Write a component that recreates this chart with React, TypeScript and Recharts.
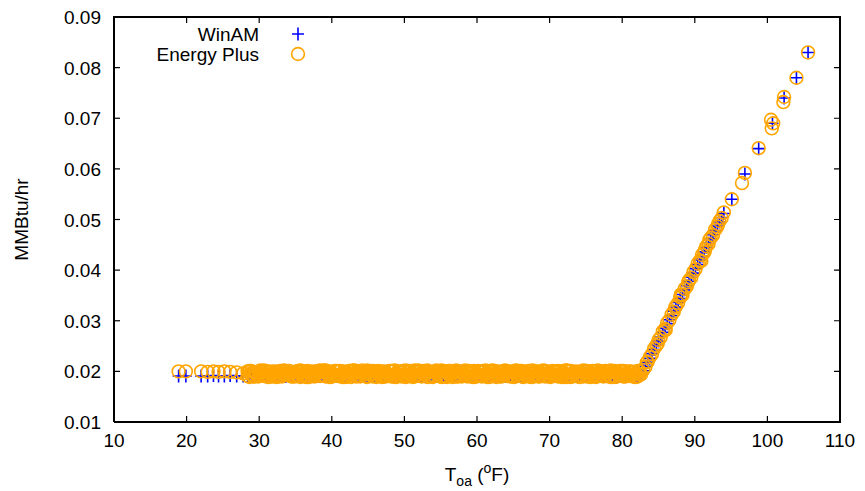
import React from 'react';
import { ScatterChart, Scatter, XAxis, YAxis } from 'recharts';

const FONT = '"Liberation Sans", Arial, Helvetica, sans-serif';

// tick values
const xTicks = [10, 20, 30, 40, 50, 60, 70, 80, 90, 100, 110];
const yTicks = [0.01, 0.02, 0.03, 0.04, 0.05, 0.06, 0.07, 0.08, 0.09];

// flat part, cold side (few hours)
const sparseTemps = [18.9, 19.9, 22.0, 22.9, 23.7, 24.4, 25.2, 26.0, 26.9, 27.8];
const winamSparse = [0.0191, 0.0191, 0.0191, 0.0191, 0.0192, 0.0191, 0.0191, 0.0192, 0.0191, 0.0191];
const epSparse = [0.0200, 0.0200, 0.0200, 0.0199, 0.0200, 0.0199, 0.0200, 0.0199, 0.0198, 0.0196];

// flat part, dense band
const denseTemps = [
  28.4, 28.9, 29.4, 29.9, 30.4, 30.9, 31.4, 31.9, 32.4, 32.9, 33.4, 33.9,
  34.4, 34.9, 35.4, 35.9, 36.4, 36.9, 37.4, 37.9, 38.4, 38.9, 39.4, 39.9,
  40.4, 40.9, 41.4, 41.9, 42.4, 42.9, 43.4, 43.9, 44.4, 44.9, 45.4, 45.9,
  46.4, 46.9, 47.4, 47.9, 48.4, 48.9, 49.4, 49.9, 50.4, 50.9, 51.4, 51.9,
  52.4, 52.9, 53.4, 53.9, 54.4, 54.9, 55.4, 55.9, 56.4, 56.9, 57.4, 57.9,
  58.4, 58.9, 59.4, 59.9, 60.4, 60.9, 61.4, 61.9, 62.4, 62.9, 63.4, 63.9,
  64.4, 64.9, 65.4, 65.9, 66.4, 66.9, 67.4, 67.9, 68.4, 68.9, 69.4, 69.9,
  70.4, 70.9, 71.4, 71.9, 72.4, 72.9, 73.4, 73.9, 74.4, 74.9, 75.4, 75.9,
  76.4, 76.9, 77.4, 77.9, 78.4, 78.9, 79.4, 79.9, 80.4, 80.9, 81.4, 81.9,
  82.4,
];
const denseTemps2 = [
  28.65, 29.15, 29.65, 30.15, 30.65, 31.15, 31.65, 32.15, 32.65, 33.15, 33.65, 34.15,
  34.65, 35.15, 35.65, 36.15, 36.65, 37.15, 37.65, 38.15, 38.65, 39.15, 39.65, 40.15,
  40.65, 41.15, 41.65, 42.15, 42.65, 43.15, 43.65, 44.15, 44.65, 45.15, 45.65, 46.15,
  46.65, 47.15, 47.65, 48.15, 48.65, 49.15, 49.65, 50.15, 50.65, 51.15, 51.65, 52.15,
  52.65, 53.15, 53.65, 54.15, 54.65, 55.15, 55.65, 56.15, 56.65, 57.15, 57.65, 58.15,
  58.65, 59.15, 59.65, 60.15, 60.65, 61.15, 61.65, 62.15, 62.65, 63.15, 63.65, 64.15,
  64.65, 65.15, 65.65, 66.15, 66.65, 67.15, 67.65, 68.15, 68.65, 69.15, 69.65, 70.15,
  70.65, 71.15, 71.65, 72.15, 72.65, 73.15, 73.65, 74.15, 74.65, 75.15, 75.65, 76.15,
  76.65, 77.15, 77.65, 78.15, 78.65, 79.15, 79.65, 80.15, 80.65, 81.15, 81.65, 82.15,
];

const winamDense = [
  0.0191, 0.0192, 0.0190, 0.0191, 0.0193, 0.0190, 0.0192, 0.0191, 0.0190, 0.0192, 0.0191, 0.0193,
  0.0190, 0.0191, 0.0192, 0.0190, 0.0191, 0.0193, 0.0191, 0.0190, 0.0192, 0.0191, 0.0190, 0.0192,
  0.0193, 0.0191, 0.0190, 0.0192, 0.0191, 0.0190, 0.0193, 0.0192, 0.0191, 0.0190, 0.0191, 0.0192,
  0.0191, 0.0190, 0.0192, 0.0193, 0.0191, 0.0191, 0.0190, 0.0192, 0.0191, 0.0193, 0.0190, 0.0191,
  0.0192, 0.0191, 0.0190, 0.0191, 0.0193, 0.0192, 0.0190, 0.0191, 0.0192, 0.0190, 0.0191, 0.0193,
  0.0190, 0.0192, 0.0191, 0.0190, 0.0192, 0.0191, 0.0193, 0.0190, 0.0191, 0.0192, 0.0191, 0.0190,
  0.0191, 0.0193, 0.0190, 0.0192, 0.0191, 0.0190, 0.0191, 0.0192, 0.0193, 0.0191, 0.0190, 0.0192,
  0.0192, 0.0190, 0.0191, 0.0193, 0.0191, 0.0192, 0.0190, 0.0191, 0.0192, 0.0190, 0.0193, 0.0191,
  0.0190, 0.0191, 0.0192, 0.0191, 0.0190, 0.0193, 0.0191, 0.0192, 0.0190, 0.0191, 0.0192, 0.0191,
  0.0192,
];
const winamDense2 = [
  0.0190, 0.0192, 0.0191, 0.0190, 0.0192, 0.0191, 0.0193, 0.0190, 0.0191, 0.0192, 0.0190, 0.0191,
  0.0192, 0.0190, 0.0191, 0.0193, 0.0190, 0.0192, 0.0191, 0.0190, 0.0191, 0.0192, 0.0193, 0.0190,
  0.0191, 0.0190, 0.0192, 0.0191, 0.0193, 0.0190, 0.0191, 0.0192, 0.0190, 0.0191, 0.0192, 0.0191,
  0.0193, 0.0191, 0.0190, 0.0192, 0.0190, 0.0191, 0.0192, 0.0193, 0.0190, 0.0191, 0.0191, 0.0192,
  0.0190, 0.0192, 0.0191, 0.0190, 0.0192, 0.0193, 0.0191, 0.0190, 0.0191, 0.0192, 0.0190, 0.0191,
  0.0191, 0.0190, 0.0193, 0.0191, 0.0192, 0.0190, 0.0191, 0.0192, 0.0191, 0.0190, 0.0193, 0.0192,
  0.0192, 0.0191, 0.0190, 0.0191, 0.0193, 0.0192, 0.0190, 0.0191, 0.0190, 0.0192, 0.0191, 0.0190,
  0.0190, 0.0193, 0.0192, 0.0191, 0.0190, 0.0191, 0.0192, 0.0190, 0.0193, 0.0191, 0.0190, 0.0192,
  0.0191, 0.0192, 0.0190, 0.0191, 0.0192, 0.0190, 0.0191, 0.0193, 0.0191, 0.0192, 0.0190, 0.0191,
];

const epDense = [
  0.0200, 0.0194, 0.0190, 0.0198, 0.0192, 0.0201, 0.0189, 0.0196, 0.0199, 0.0191, 0.0202, 0.0195,
  0.0197, 0.0190, 0.0201, 0.0193, 0.0199, 0.0189, 0.0200, 0.0195, 0.0191, 0.0202, 0.0194, 0.0198,
  0.0192, 0.0200, 0.0196, 0.0189, 0.0201, 0.0194, 0.0199, 0.0190, 0.0197, 0.0202, 0.0193, 0.0200,
  0.0195, 0.0189, 0.0198, 0.0201, 0.0191, 0.0196, 0.0200, 0.0192, 0.0199, 0.0194, 0.0190, 0.0202,
  0.0197, 0.0193, 0.0200, 0.0189, 0.0196, 0.0201, 0.0191, 0.0198, 0.0194, 0.0200, 0.0190, 0.0199,
  0.0202, 0.0195, 0.0189, 0.0197, 0.0192, 0.0200, 0.0196, 0.0190, 0.0201, 0.0193, 0.0199, 0.0195,
  0.0191, 0.0198, 0.0202, 0.0194, 0.0189, 0.0200, 0.0196, 0.0192, 0.0199, 0.0201, 0.0190, 0.0197,
  0.0194, 0.0200, 0.0191, 0.0198, 0.0202, 0.0189, 0.0195, 0.0199, 0.0193, 0.0201, 0.0196, 0.0190,
  0.0200, 0.0192, 0.0198, 0.0195, 0.0189, 0.0201, 0.0197, 0.0193, 0.0200, 0.0191, 0.0199, 0.0196,
  0.0194,
];

// more hours at the same temperatures
const epDense3 = [
  0.0191, 0.0201, 0.0198, 0.0190, 0.0200, 0.0193, 0.0199, 0.0190, 0.0189, 0.0201, 0.0193, 0.0198,
  0.0190, 0.0199, 0.0192, 0.0201, 0.0189, 0.0197, 0.0191, 0.0200, 0.0202, 0.0193, 0.0199, 0.0189,
  0.0201, 0.0191, 0.0189, 0.0199, 0.0192, 0.0202, 0.0190, 0.0198, 0.0193, 0.0189, 0.0200, 0.0191,
  0.0201, 0.0199, 0.0190, 0.0192, 0.0200, 0.0189, 0.0191, 0.0201, 0.0190, 0.0199, 0.0202, 0.0193,
  0.0190, 0.0200, 0.0191, 0.0199, 0.0202, 0.0190, 0.0200, 0.0189, 0.0201, 0.0191, 0.0199, 0.0190,
  0.0193, 0.0201, 0.0199, 0.0190, 0.0200, 0.0191, 0.0189, 0.0201, 0.0192, 0.0200, 0.0190, 0.0202,
  0.0200, 0.0190, 0.0192, 0.0201, 0.0199, 0.0191, 0.0189, 0.0200, 0.0190, 0.0193, 0.0201, 0.0190,
  0.0201, 0.0191, 0.0200, 0.0190, 0.0189, 0.0201, 0.0199, 0.0190, 0.0200, 0.0192, 0.0190, 0.0201,
  0.0189, 0.0200, 0.0190, 0.0199, 0.0202, 0.0191, 0.0193, 0.0201, 0.0190, 0.0200, 0.0191, 0.0189,
  0.0200,
];

const epDense2 = [
  0.0189, 0.0199, 0.0195, 0.0202, 0.0191, 0.0197, 0.0193, 0.0200, 0.0190, 0.0196, 0.0201, 0.0192,
  0.0198, 0.0191, 0.0202, 0.0194, 0.0189, 0.0199, 0.0196, 0.0201, 0.0192, 0.0190, 0.0200, 0.0195,
  0.0201, 0.0193, 0.0189, 0.0198, 0.0195, 0.0202, 0.0191, 0.0197, 0.0200, 0.0194, 0.0190, 0.0199,
  0.0192, 0.0200, 0.0196, 0.0190, 0.0202, 0.0193, 0.0198, 0.0189, 0.0201, 0.0195, 0.0199, 0.0191,
  0.0196, 0.0202, 0.0190, 0.0199, 0.0193, 0.0189, 0.0200, 0.0194, 0.0197, 0.0202, 0.0191, 0.0198,
  0.0190, 0.0197, 0.0201, 0.0192, 0.0199, 0.0195, 0.0189, 0.0202, 0.0194, 0.0198, 0.0193, 0.0200,
  0.0199, 0.0189, 0.0194, 0.0201, 0.0196, 0.0190, 0.0202, 0.0193, 0.0198, 0.0191, 0.0200, 0.0195,
  0.0193, 0.0201, 0.0198, 0.0189, 0.0200, 0.0196, 0.0191, 0.0199, 0.0202, 0.0190, 0.0197, 0.0194,
  0.0202, 0.0195, 0.0191, 0.0200, 0.0189, 0.0198, 0.0194, 0.0201, 0.0196, 0.0192, 0.0199, 0.0190,
];

const epDense4 = [
  0.0201, 0.0190, 0.0192, 0.0199, 0.0202, 0.0189, 0.0200, 0.0191, 0.0198, 0.0190, 0.0193, 0.0201,
  0.0190, 0.0200, 0.0189, 0.0191, 0.0201, 0.0193, 0.0190, 0.0199, 0.0200, 0.0202, 0.0189, 0.0191,
  0.0192, 0.0201, 0.0200, 0.0190, 0.0189, 0.0191, 0.0199, 0.0202, 0.0190, 0.0200, 0.0201, 0.0189,
  0.0200, 0.0190, 0.0191, 0.0201, 0.0189, 0.0200, 0.0190, 0.0202, 0.0191, 0.0189, 0.0192, 0.0200,
  0.0201, 0.0189, 0.0199, 0.0191, 0.0200, 0.0202, 0.0190, 0.0201, 0.0189, 0.0190, 0.0200, 0.0192,
  0.0199, 0.0190, 0.0189, 0.0201, 0.0190, 0.0202, 0.0200, 0.0191, 0.0189, 0.0190, 0.0201, 0.0191,
  0.0190, 0.0201, 0.0200, 0.0190, 0.0191, 0.0201, 0.0189, 0.0200, 0.0190, 0.0202, 0.0191, 0.0189,
  0.0200, 0.0190, 0.0189, 0.0202, 0.0191, 0.0190, 0.0200, 0.0189, 0.0190, 0.0201, 0.0189, 0.0200,
  0.0191, 0.0200, 0.0201, 0.0190, 0.0199, 0.0189, 0.0201, 0.0190, 0.0191, 0.0200, 0.0189, 0.0201,
];

// rising part (cooling load above ~82 F)
const winamRiseTemps = [
  82.6, 82.9, 83.2, 83.5, 83.8, 84.1, 84.4, 84.7, 85.0, 85.3, 85.6, 85.9,
  86.2, 86.5, 86.8, 87.1, 87.4, 87.7, 88.0, 88.3, 88.6, 88.9, 89.2, 89.5,
  89.8, 90.1, 90.4, 90.7, 91.0, 91.3, 91.6, 91.9, 92.2, 92.5, 92.8, 93.1,
  93.4, 93.7, 94.0, 95.1, 96.9, 98.8, 100.7, 102.3, 104.0, 105.6,
];
const winamRise = [
  0.0193, 0.0201, 0.0210, 0.0218, 0.0226, 0.0235, 0.0243, 0.0252, 0.0260, 0.0268, 0.0277, 0.0285,
  0.0294, 0.0302, 0.0310, 0.0319, 0.0327, 0.0336, 0.0344, 0.0352, 0.0361, 0.0369, 0.0378, 0.0386,
  0.0394, 0.0403, 0.0411, 0.0420, 0.0428, 0.0436, 0.0445, 0.0453, 0.0462, 0.0470, 0.0478, 0.0487,
  0.0495, 0.0504, 0.0512, 0.0540, 0.0590, 0.0640, 0.0690, 0.0740, 0.0780, 0.0830,
];

const epRiseTemps = [
  82.6, 82.9, 83.2, 83.5, 83.8, 84.1, 84.4, 84.7, 85.0, 85.3, 85.6, 85.9,
  86.2, 86.5, 86.8, 87.1, 87.4, 87.7, 88.0, 88.3, 88.6, 88.9, 89.2, 89.5,
  89.8, 90.1, 90.4, 90.7, 91.0, 91.3, 91.6, 91.9, 92.2, 92.5, 92.8, 93.1,
  93.4, 93.7, 94.0, 95.1, 96.5, 96.9, 98.8, 100.5, 100.6, 100.8, 102.2, 102.3,
  104.0, 105.6, 86.0, 88.1, 90.9, 92.0, 83.4, 84.9, 87.3, 89.1, 91.4, 93.2,
];
const epRise = [
  0.0194, 0.0203, 0.0209, 0.0219, 0.0228, 0.0234, 0.0245, 0.0251, 0.0262, 0.0267, 0.0279, 0.0284,
  0.0296, 0.0301, 0.0312, 0.0318, 0.0329, 0.0335, 0.0346, 0.0351, 0.0363, 0.0368, 0.0380, 0.0385,
  0.0396, 0.0402, 0.0413, 0.0419, 0.0430, 0.0435, 0.0447, 0.0452, 0.0464, 0.0469, 0.0480, 0.0486,
  0.0497, 0.0503, 0.0514, 0.0540, 0.0572, 0.0592, 0.0641, 0.0697, 0.0680, 0.0690, 0.0732, 0.0742,
  0.0780, 0.0830, 0.0282, 0.0352, 0.0418, 0.0460, 0.0218, 0.0255, 0.0326, 0.0376, 0.0440, 0.0491,
];

const pts = (temps: number[], vals: number[]) => temps.map((t, i) => ({ t, v: vals[i] }));

const winamData = [
  ...pts(sparseTemps, winamSparse),
  ...pts(denseTemps, winamDense),
  ...pts(denseTemps2, winamDense2),
  ...pts(winamRiseTemps, winamRise),
];
const epData = [
  ...pts(sparseTemps, epSparse),
  ...pts(denseTemps, epDense),
  ...pts(denseTemps2, epDense2),
  ...pts(denseTemps, epDense3),
  ...pts(denseTemps2, epDense4),
  ...pts(epRiseTemps, epRise),
];

const BLUE = '#0000ff';
const ORANGE = '#ffa500';

// chart layout
const W = 865;
const H = 491;
const Y_AXIS_W = 114;
const X_AXIS_H = 69;
const M_TOP = 17;
const M_RIGHT = 25;
const PLOT_L = Y_AXIS_W;
const PLOT_R = W - M_RIGHT;
const PLOT_T = M_TOP;
const PLOT_B = H - X_AXIS_H;

const PlusShape = (props: any) => {
  const { cx, cy } = props;
  if (cx == null || cy == null) return null;
  return (
    <path
      d={`M${cx - 6},${cy}H${cx + 6}M${cx},${cy - 6.5}V${cy + 6.5}`}
      stroke={BLUE}
      strokeWidth={1.6}
      fill="none"
    />
  );
};

const CircleShape = (props: any) => {
  const { cx, cy } = props;
  if (cx == null || cy == null) return null;
  return <circle cx={cx} cy={cy} r={6.4} stroke={ORANGE} strokeWidth={1.6} fill="none" />;
};

const BottomTick = (props: any) => {
  const { x, y, payload } = props;
  return (
    <g>
      <path d={`M${x},${y}V${y - 6}`} stroke="#000" strokeWidth={1.2} fill="none" />
      <text x={x} y={y + 25} textAnchor="middle" fontSize={19} fontFamily={FONT} fill="#000">
        {payload.value}
      </text>
    </g>
  );
};

const LeftTick = (props: any) => {
  const { x, y, payload } = props;
  return (
    <g>
      <path d={`M${x},${y}H${x + 6}`} stroke="#000" strokeWidth={1.2} fill="none" />
      <text x={x - 13} y={y + 7} textAnchor="end" fontSize={19} fontFamily={FONT} fill="#000">
        {Number(payload.value).toFixed(2)}
      </text>
    </g>
  );
};

const XTitle = (props: any) => {
  const vb = props.viewBox || {};
  const cx = vb.x + vb.width / 2;
  return (
    <text x={cx} y={481} textAnchor="middle" fontSize={19} fontFamily={FONT} fill="#000">
      T
      <tspan fontSize={14} dy={5}>oa</tspan>
      <tspan fontSize={19} dy={-5}> (</tspan>
      <tspan fontSize={14} dy={-8}>o</tspan>
      <tspan fontSize={19} dy={8}>F)</tspan>
    </text>
  );
};

const YTitle = (props: any) => {
  const vb = props.viewBox || {};
  const cy = vb.y + vb.height / 2;
  return (
    <text
      x={28}
      y={cy}
      transform={`rotate(-90, 28, ${cy})`}
      textAnchor="middle"
      fontSize={19}
      fontFamily={FONT}
      fill="#000"
    >
      MMBtu/hr
    </text>
  );
};

// top/right border with mirrored ticks (gnuplot style)
const Frame = () => {
  const xPos = (t: number) => PLOT_L + ((t - 10) / 100) * (PLOT_R - PLOT_L);
  const yPos = (v: number) => PLOT_B - ((v - 0.01) / 0.08) * (PLOT_B - PLOT_T);
  const border = `M${PLOT_L - 1},${PLOT_T}H${PLOT_R}V${PLOT_B + 1}`;
  const ticks =
    xTicks.slice(1, -1).map((t) => `M${xPos(t)},${PLOT_T}V${PLOT_T + 6}`).join('') +
    yTicks.slice(1, -1).map((v) => `M${PLOT_R},${yPos(v)}H${PLOT_R - 6}`).join('');
  return (
    <g>
      <path d={border} stroke="#000" strokeWidth={2} fill="none" />
      <path d={ticks} stroke="#000" strokeWidth={1.2} fill="none" />
    </g>
  );
};

export default function App() {
  return (
    <div style={{ position: 'absolute', left: 0, top: 0, width: W, height: H, background: '#fff' }}>
      <ScatterChart width={W} height={H} margin={{ top: M_TOP, right: M_RIGHT, bottom: 0, left: 0 }}>
        <XAxis
          dataKey="t"
          type="number"
          domain={[10, 110]}
          ticks={xTicks}
          height={X_AXIS_H}
          tickSize={0}
          tickMargin={0}
          tickLine={false}
          tick={<BottomTick />}
          axisLine={{ stroke: '#000', strokeWidth: 2 }}
          label={{ content: <XTitle /> }}
        />
        <YAxis
          dataKey="v"
          type="number"
          domain={[0.01, 0.09]}
          ticks={yTicks}
          width={Y_AXIS_W}
          tickSize={0}
          tickMargin={0}
          tickLine={false}
          tick={<LeftTick />}
          axisLine={{ stroke: '#000', strokeWidth: 2 }}
          label={{ content: <YTitle /> }}
        />
        <Scatter name="WinAM" data={winamData} shape={<PlusShape />} isAnimationActive={false} />
        <Scatter name="Energy Plus" data={epData} shape={<CircleShape />} isAnimationActive={false} />
      </ScatterChart>
      <svg
        width={W}
        height={H}
        style={{ position: 'absolute', left: 0, top: 0, pointerEvents: 'none' }}
      >
        <Frame />
        <text x={259} y={41} textAnchor="end" fontSize={19} fontFamily={FONT} fill="#000">WinAM</text>
        <path d="M292,34H304M298,27.5V40.5" stroke={BLUE} strokeWidth={1.6} fill="none" />
        <text x={259} y={61} textAnchor="end" fontSize={19} fontFamily={FONT} fill="#000">Energy Plus</text>
        <circle cx={298} cy={54} r={6.4} stroke={ORANGE} strokeWidth={1.6} fill="none" />
      </svg>
    </div>
  );
}
